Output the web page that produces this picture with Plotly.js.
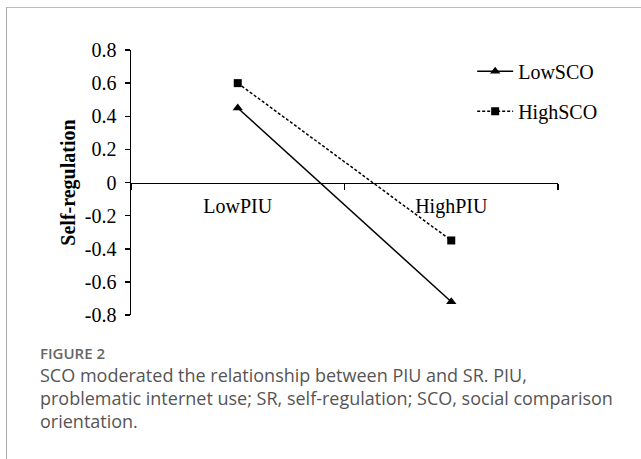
<!DOCTYPE html>
<html>
<head>
<meta charset="utf-8">
<script src="https://cdn.plot.ly/plotly-3.0.1.min.js"></script>
<style>
  html, body { margin: 0; padding: 0; background: #fff; }
  #wrap { position: relative; width: 641px; height: 459px; overflow: hidden; }
  #frame { position: absolute; left: 6px; top: 7px; width: 700px; height: 500px;
           border-top: 1px solid #bbb; border-left: 1px solid #aaa; }
  #chart { position: absolute; left: 0; top: 0; width: 641px; height: 459px; }
  #figlabel { position: absolute; left: 40px; top: 343px; font-family: "Open Sans", sans-serif;
              font-size: 15px; font-weight: 600; color: #666; line-height: 20px; }
  #caption { position: absolute; left: 40px; top: 364px; width: 600px; white-space: nowrap;
             font-family: "Open Sans", sans-serif;
             font-size: 18px; line-height: 23px; color: #555; }
</style>
</head>
<body>
<div id="wrap">
  <div id="frame"></div>
  <div id="chart"></div>
  <div id="figlabel">FIGURE 2</div>
  <div id="caption">SCO moderated the relationship between PIU and SR. PIU,<br>problematic internet use; SR, self-regulation; SCO, social comparison<br>orientation.</div>
</div>
<script>
const categories = ['LowPIU', 'HighPIU'];
const lowSCO = [0.45, -0.72];
const highSCO = [0.60, -0.35];
const seriesNames = ['LowSCO', 'HighSCO'];
const yTickVals = [0.8, 0.6, 0.4, 0.2, 0, -0.2, -0.4, -0.6, -0.8];
const yTickText = ['0.8', '0.6', '0.4', '0.2', '0', '-0.2', '-0.4', '-0.6', '-0.8'];

const serif = 'Liberation Serif, Times New Roman, serif';

const traces = [
  {
    x: categories, y: lowSCO, name: seriesNames[0], type: 'scatter', mode: 'lines+markers',
    line: { color: '#000', width: 1.5 },
    marker: { symbol: 'triangle-up', size: 9, color: '#000' },
    legendgroup: 'a'
  },
  {
    x: categories, y: highSCO, name: seriesNames[1], type: 'scatter', mode: 'lines+markers',
    line: { color: '#000', width: 1.5, dash: '3px,2px' },
    marker: { symbol: 'square', size: 8, color: '#000' },
    legendgroup: 'b'
  }
];

const layout = {
  width: 641, height: 459,
  margin: { l: 131, r: 83, t: 50, b: 144 },
  paper_bgcolor: 'rgba(0,0,0,0)',
  plot_bgcolor: 'rgba(0,0,0,0)',
  showlegend: true,
  legend: {
    x: 0.799, xanchor: 'left', y: 0.993, yanchor: 'top',
    font: { family: serif, size: 20, color: '#000' },
    traceorder: 'grouped', tracegroupgap: 11,
    itemwidth: 36,
    bgcolor: 'rgba(0,0,0,0)'
  },
  xaxis: {
    type: 'category', range: [-0.5, 1.5],
    anchor: 'free', position: 0.5,
    showline: true, linecolor: '#000', linewidth: 1.5,
    ticks: 'outside', tickson: 'boundaries', ticklen: 6, tickwidth: 1.5, tickcolor: '#000',
    ticklabelstandoff: 5,
    showgrid: false, zeroline: false,
    tickfont: { family: serif, size: 20, color: '#000' }
  },
  yaxis: {
    range: [-0.8, 0.8],
    showline: true, linecolor: '#000', linewidth: 1.5,
    ticks: 'outside', ticklen: 5, tickwidth: 1.5, tickcolor: '#000',
    tickvals: yTickVals, ticktext: yTickText,
    ticklabelstandoff: 4,
    showgrid: false, zeroline: false,
    tickfont: { family: serif, size: 20, color: '#000' },
    title: { text: '<b>Self-regulation</b>', standoff: 4, font: { family: serif, size: 20, color: '#000' } }
  }
};

Plotly.newPlot('chart', traces, layout, { staticPlot: true, displayModeBar: false });
</script>
</body>
</html>
